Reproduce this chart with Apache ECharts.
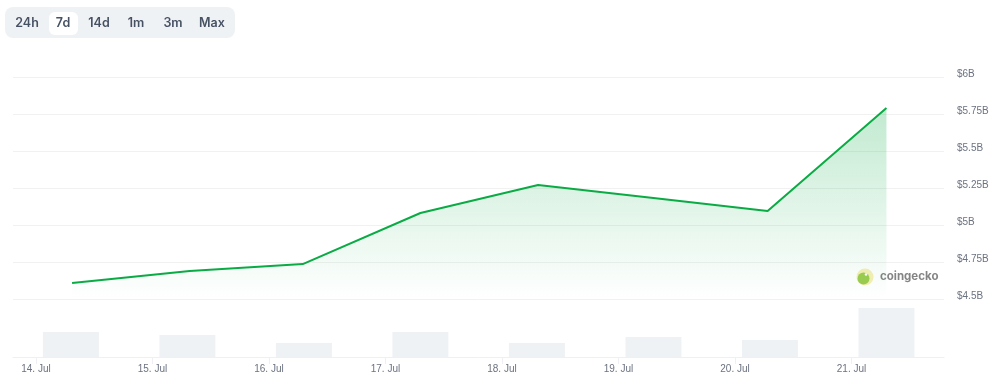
<!DOCTYPE html>
<html>
<head>
<meta charset="utf-8">
<script src="https://cdn.jsdelivr.net/npm/echarts@6/dist/echarts.min.js"></script>
<style>
html,body{margin:0;padding:0;background:#fff;}
#chart{width:996px;height:385px;}
</style>
</head>
<body>
<div id="chart"></div>
<script>
// Day offsets from 14 Jul 00:00
const dayLabels = ['14. Jul', '15. Jul', '16. Jul', '17. Jul', '18. Jul', '19. Jul', '20. Jul', '21. Jul'];
const dayTicks = [0, 1, 2, 3, 4, 5, 6, 7];
const pricePointDays = [0.31, 1.32, 2.29, 3.30, 4.31, 5.30, 6.28, 7.30];
const marketCapB = [4.608, 4.689, 4.736, 5.081, 5.270, 5.182, 5.095, 5.791];
const volumeDays = [0.30, 1.30, 2.30, 3.30, 4.30, 5.30, 6.30, 7.30];
const volumeM = [250, 220, 140, 250, 140, 200, 170, 490];
const yTicks = [4.5, 4.75, 5, 5.25, 5.5, 5.75, 6];
const rangeButtons = ['24h', '7d', '14d', '1m', '3m', 'Max'];
const selectedRange = '7d';

const chart = echarts.init(document.getElementById('chart'));

const btnCenters = [27, 63, 99, 136, 173, 212];
const btnGraphics = rangeButtons.map((t, i) => ({
  type: 'text',
  x: btnCenters[i], y: 23,
  style: {
    text: t, align: 'center', verticalAlign: 'middle',
    font: '600 12.5px Inter', fill: '#465163'
  },
  z: 10
}));
const selIdx = rangeButtons.indexOf(selectedRange);

const option = {
  animation: false,
  backgroundColor: '#ffffff',
  grid: [
    { left: 13, right: 52, top: 77, height: 222 },
    { left: 13, right: 52, top: 300, height: 57 }
  ],
  xAxis: [
    {
      type: 'value', gridIndex: 0, min: -0.197, max: 7.794,
      axisLine: { show: false }, axisTick: { show: false },
      axisLabel: { show: false }, splitLine: { show: false }
    },
    {
      type: 'value', gridIndex: 1, min: -0.197, max: 7.794,
      axisLine: { show: true, lineStyle: { color: '#eef0f3', width: 1 } },
      axisTick: { show: true, customValues: dayTicks, length: 7, lineStyle: { color: '#eef0f3' } },
      axisLabel: {
        show: true, customValues: dayTicks, margin: 7,
        formatter: v => dayLabels[Math.round(v)],
        color: '#6b7280', fontSize: 10, fontFamily: 'Liberation Sans'
      },
      splitLine: { show: false }
    }
  ],
  yAxis: [
    {
      type: 'value', gridIndex: 0, position: 'right', min: 4.5, max: 6, interval: 0.25,
      axisLine: { show: false }, axisTick: { show: false },
      axisLabel: {
        margin: 13, color: '#6b7280', fontSize: 10, fontFamily: 'Liberation Sans',
        verticalAlign: 'bottom', lineHeight: 6,
        formatter: v => '$' + (+v.toFixed(2)) + 'B'
      },
      splitLine: { lineStyle: { color: '#f1f1f1', width: 1 } }
    },
    {
      type: 'value', gridIndex: 1, min: 0, max: 570,
      axisLine: { show: false }, axisTick: { show: false },
      axisLabel: { show: false }, splitLine: { show: false }
    }
  ],
  series: [
    {
      type: 'line', xAxisIndex: 0, yAxisIndex: 0,
      data: pricePointDays.map((d, i) => [d, marketCapB[i]]),
      showSymbol: false, symbol: 'none',
      lineStyle: { color: '#0aab45', width: 2 },
      areaStyle: {
        origin: 'start',
        color: {
          type: 'linear', x: 0, y: 0, x2: 0, y2: 1,
          colorStops: [
            { offset: 0, color: 'rgba(10,171,69,0.36)' },
            { offset: 1, color: 'rgba(10,171,69,0.0)' }
          ]
        }
      },
      z: 3
    },
    {
      type: 'bar', xAxisIndex: 1, yAxisIndex: 1,
      data: volumeDays.map((d, i) => [d, volumeM[i]]),
      barWidth: 56,
      itemStyle: { color: '#eff2f5' }
    }
  ],
  graphic: [
    {
      type: 'rect', shape: { x: 5, y: 7, width: 230, height: 31, r: 8 },
      style: { fill: '#eff2f5' }, z: 5
    },
    {
      type: 'rect', shape: { x: 49, y: 12, width: 29, height: 23, r: 6 },
      style: { fill: '#ffffff' }, z: 6, invisible: selIdx < 0
    },
    ...btnGraphics,
    {
      type: 'group', z: 20,
      children: [
        { type: 'circle', shape: { cx: 865, cy: 277, r: 8.5 }, style: { fill: '#f6eca8', opacity: 0.85 } },
        { type: 'circle', shape: { cx: 863.5, cy: 278.5, r: 6 }, style: { fill: '#8dc63f', opacity: 0.85 } },
        { type: 'circle', shape: { cx: 866, cy: 274.5, r: 1.3 }, style: { fill: '#ffffff' } },
        {
          type: 'text', x: 880, y: 277,
          style: { text: 'coingecko', align: 'left', verticalAlign: 'middle', font: 'bold 11.5px Inter', fill: '#777777', opacity: 0.9 }
        }
      ]
    }
  ]
};
chart.setOption(option);
</script>
</body>
</html>
